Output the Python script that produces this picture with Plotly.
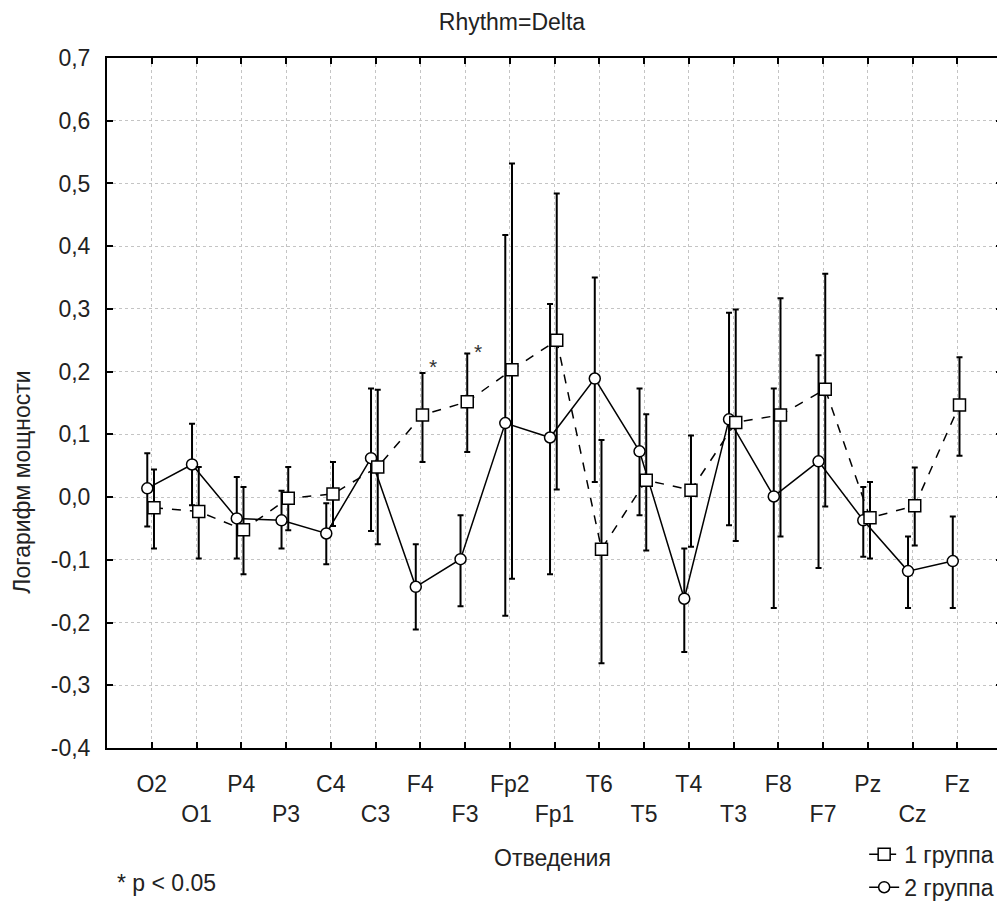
import plotly.graph_objects as go

# ---- data -------------------------------------------------------------
leads = ["O2", "O1", "P4", "P3", "C4", "C3", "F4", "F3", "Fp2", "Fp1",
         "T6", "T5", "T4", "T3", "F8", "F7", "Pz", "Cz", "Fz"]

g1_mean = [-0.017, -0.023, -0.052, -0.002, 0.005, 0.048, 0.131, 0.152, 0.203, 0.250,
           -0.083, 0.027, 0.011, 0.119, 0.131, 0.172, -0.033, -0.014, 0.147]
g1_upper = [0.044, 0.048, 0.016, 0.048, 0.056, 0.171, 0.198, 0.229, 0.532, 0.484,
            0.091, 0.132, 0.098, 0.299, 0.317, 0.356, 0.024, 0.047, 0.223]
g1_lower = [-0.082, -0.098, -0.123, -0.053, -0.046, -0.075, 0.056, 0.072, -0.130, 0.012,
            -0.265, -0.085, -0.079, -0.070, -0.063, -0.015, -0.098, -0.077, 0.066]

g2_mean = [0.014, 0.052, -0.034, -0.037, -0.058, 0.062, -0.143, -0.099, 0.118, 0.095,
           0.189, 0.073, -0.162, 0.124, 0.001, 0.057, -0.037, -0.118, -0.102]
g2_upper = [0.070, 0.117, 0.032, 0.010, -0.010, 0.173, -0.075, -0.029, 0.418, 0.308,
            0.350, 0.173, -0.082, 0.294, 0.173, 0.226, 0.016, -0.063, -0.031]
g2_lower = [-0.047, -0.013, -0.098, -0.082, -0.107, -0.054, -0.211, -0.174, -0.189, -0.123,
            0.024, -0.029, -0.247, -0.045, -0.177, -0.113, -0.095, -0.177, -0.177]

y_ticks = [-0.4, -0.3, -0.2, -0.1, 0.0, 0.1, 0.2, 0.3, 0.4, 0.5, 0.6, 0.7]
y_tick_text = ["-0,4", "-0,3", "-0,2", "-0,1", "0,0", "0,1", "0,2", "0,3", "0,4", "0,5", "0,6", "0,7"]

star_leads = ["F4", "F3"]
star_level = [0.208, 0.232]

series_names = ["1 группа", "2 группа"]
# -----------------------------------------------------------------------

FONT = "Liberation Sans, Arial, sans-serif"
TXT = "#222222"
FS = 23

# page body has an 8px default margin -> figure is drawn 8px right/down
W, H = 997, 898

idx = list(range(len(leads)))
x_g1 = [i + 0.05 for i in idx]
x_g2 = [i - 0.10 for i in idx]

fig = go.Figure()

fig.add_trace(go.Scatter(
    x=x_g2, y=g2_mean, name=series_names[1], mode="lines+markers",
    line=dict(color="black", width=1.5, dash="solid"),
    marker=dict(symbol="circle", size=11, color="white", line=dict(color="black", width=1.5)),
    error_y=dict(type="data", symmetric=False,
                 array=[u - m for u, m in zip(g2_upper, g2_mean)],
                 arrayminus=[m - l for l, m in zip(g2_lower, g2_mean)],
                 color="black", thickness=2, width=3),
))

fig.add_trace(go.Scatter(
    x=x_g1, y=g1_mean, name=series_names[0], mode="lines+markers",
    line=dict(color="black", width=1.5, dash="dash"),
    marker=dict(symbol="square", size=12, color="white", line=dict(color="black", width=1.5)),
    error_y=dict(type="data", symmetric=False,
                 array=[u - m for u, m in zip(g1_upper, g1_mean)],
                 arrayminus=[m - l for l, m in zip(g1_lower, g1_mean)],
                 color="black", thickness=2, width=3),
))

# significance stars
for lead, lvl in zip(star_leads, star_level):
    fig.add_annotation(x=leads.index(lead) + 0.28, y=lvl, xref="x", yref="y",
                       text="*", showarrow=False, font=dict(family=FONT, size=21, color="#333"))

tick_text = [c if i % 2 == 0 else "<br>" + c for i, c in enumerate(leads)]

fig.update_layout(
    width=W, height=H,
    margin=dict(l=99, r=3, t=50, b=158, autoexpand=False),
    paper_bgcolor="white", plot_bgcolor="white",
    font=dict(family=FONT, size=FS, color=TXT),
    title=dict(text="Rhythm=Delta", x=0.5055, xanchor="center", y=1 - 14 / H, yanchor="middle",
               font=dict(family=FONT, size=FS, color=TXT)),
    showlegend=True,
    legend=dict(x=0.846, y=-0.123, xanchor="left", yanchor="top",
                traceorder="reversed", bgcolor="rgba(0,0,0,0)",
                font=dict(family=FONT, size=FS, color=TXT),
                itemwidth=30, tracegroupgap=0),
    xaxis=dict(
        range=[-1, 19], tickmode="array", tickvals=idx, ticktext=tick_text,
        ticks="inside", ticklen=6, tickwidth=2, tickcolor="black",
        showline=True, linecolor="black", linewidth=2, mirror="ticks",
        showgrid=True, gridcolor="#c4c4c4", gridwidth=1, griddash="dot",
        zeroline=False, ticklabelstandoff=14, automargin=False,
        tickfont=dict(family=FONT, size=FS, color=TXT),
    ),
    yaxis=dict(
        range=[-0.4, 0.7], tickmode="array", tickvals=y_ticks, ticktext=y_tick_text,
        ticks="inside", ticklen=6, tickwidth=2, tickcolor="black",
        showline=True, linecolor="black", linewidth=2, mirror="ticks",
        showgrid=True, gridcolor="#c4c4c4", gridwidth=1, griddash="dot",
        zeroline=False, ticklabelstandoff=10, automargin=False,
        tickfont=dict(family=FONT, size=FS, color=TXT),
    ),
)

fig.add_annotation(text="Логарифм мощности", xref="paper", yref="paper",
                   x=-0.095, y=0.386, textangle=-90, showarrow=False,
                   xanchor="center", yanchor="middle",
                   font=dict(family=FONT, size=FS, color=TXT))
fig.add_annotation(text="Отведения", xref="paper", yref="paper",
                   x=0.498, y=-0.160, showarrow=False, xanchor="center", yanchor="middle",
                   font=dict(family=FONT, size=FS, color=TXT))
fig.add_annotation(text="* p < 0.05", xref="paper", yref="paper",
                   x=(115 - 107) / 895, y=-(883 - 748) / 690, showarrow=False,
                   xanchor="left", yanchor="middle",
                   font=dict(family=FONT, size=FS, color=TXT))

fig.write_html("out.html")
